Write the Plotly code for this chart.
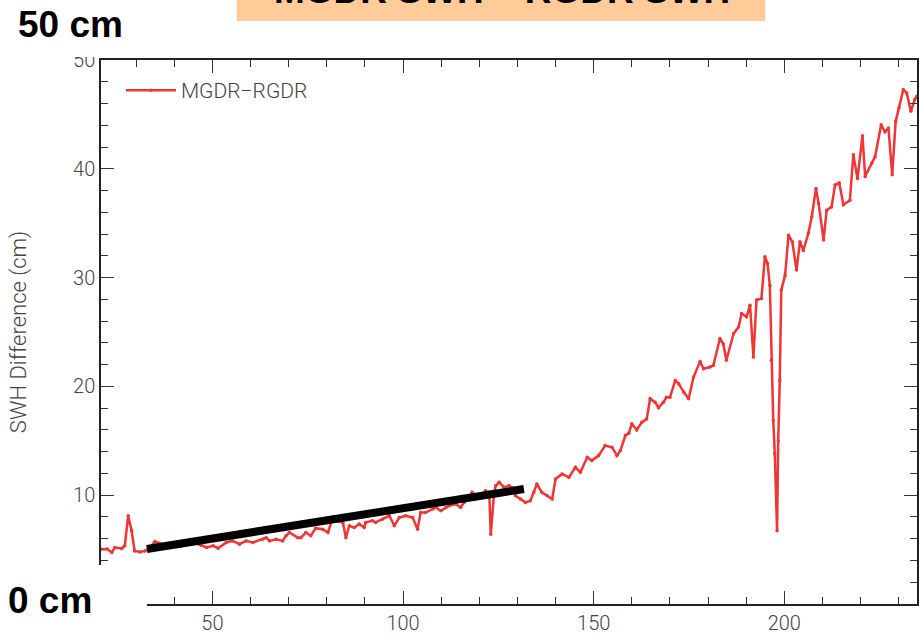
import plotly.graph_objects as go

# ---- data ----
cycle = [20.8, 22.4, 23.6, 24.4, 26.2, 27.0, 27.9, 28.8, 29.6, 31.0, 32.3, 33.6, 34.9, 36.0,
         37.5, 39.5, 41.5, 43.5, 45.5, 47.0,
         48.5, 50.2, 51.5, 53.6, 55.3, 57.1, 58.8, 60.6, 63.2, 64.1, 65.0, 66.7, 68.4, 69.3,
         70.2, 72.4, 73.2, 74.5, 75.8, 77.1, 78.9, 80.3, 81.6, 82.4, 84.2, 85.0, 85.9, 87.2,
         88.5, 89.8, 90.2, 92.0, 92.8, 94.6, 96.4, 97.7, 99.0, 100.7, 102.5, 103.8, 104.6,
         105.9, 107.8, 108.6, 109.9, 111.2, 112.1, 113.8, 115.1, 116.0, 117.3, 118.1, 119.0,
         120.3, 121.6, 122.6, 123.0, 123.9, 124.3, 125.2, 126.5, 127.8, 128.6, 129.5, 130.8,
         132.1, 133.4, 134.3, 135.1, 136.4, 137.8, 139.1, 140.0, 141.7, 143.5, 145.2, 146.5,
         148.3, 149.5, 151.3, 153.0, 154.8, 156.1, 157.0, 158.3, 159.2, 160.0, 161.3, 162.6,
         163.9, 164.8, 166.1, 167.0, 168.3, 169.1, 170.0, 171.4, 172.3, 173.6, 174.9, 176.2,
         177.9, 178.8, 180.5, 181.4, 183.1, 184.0, 184.8, 186.7, 188.0, 188.8, 190.1, 191.0,
         191.9, 192.7, 194.0, 194.9, 195.6, 196.2, 196.6, 197.1, 197.5, 198.1, 198.4, 198.8,
         199.2, 200.2, 201.1, 202.1, 203.2, 204.1, 205.0, 206.3, 207.2, 208.3, 209.0, 210.3,
         211.1, 212.4, 213.3, 214.4, 215.5, 217.2, 218.1, 219.2, 220.5, 221.2, 222.9, 223.8,
         225.4, 226.4, 227.3, 228.3, 229.2, 230.1, 231.2, 232.1, 233.2, 234.2, 234.8]
swh_diff = [5.04, 5.05, 4.73, 5.19, 5.10, 5.35, 8.11, 6.73, 4.88, 4.79, 4.88, 5.19, 5.74, 5.59,
            5.40, 5.50, 5.30, 5.50, 5.60, 5.40,
            5.20, 5.35, 5.13, 5.65, 5.80, 5.50, 5.80, 5.65, 5.96, 6.10, 5.80, 5.95, 5.80, 6.27,
            6.57, 6.10, 6.10, 6.57, 6.27, 6.97, 6.88, 6.57, 8.00, 7.65, 7.50, 6.10, 7.19, 7.03,
            7.35, 7.03, 7.50, 7.65, 7.50, 7.80, 8.11, 7.19, 7.95, 8.11, 7.95, 6.88, 8.41,
            8.41, 8.73, 8.88, 8.57, 8.88, 9.03, 9.19, 8.88, 9.34, 9.65, 10.26, 9.95,
            9.80, 10.41, 10.26, 6.42, 10.26, 10.88, 11.18, 10.72, 10.88, 10.70, 9.95, 9.65,
            9.34, 9.49, 10.26, 11.03, 10.26, 9.95, 9.65, 11.49, 11.95, 11.64, 12.56, 12.10,
            13.48, 13.18, 13.64, 14.56, 14.41, 13.64, 14.10, 15.48, 15.70, 16.56, 16.00, 16.70,
            17.00, 18.87, 18.55, 18.04, 18.55, 19.00, 19.00, 20.55, 20.25, 19.48, 18.87, 20.86,
            22.30, 21.63, 21.78, 21.94, 24.40, 23.90, 22.40, 24.86, 25.47, 26.70, 26.40, 27.47,
            22.70, 27.93, 28.08, 31.92, 31.30, 29.30, 22.40, 16.87, 13.80, 6.73, 15.00, 20.55,
            28.85, 30.20, 33.90, 33.30, 30.70, 33.30, 32.50, 34.07, 35.60, 38.20, 36.80, 33.45,
            36.20, 36.50, 38.50, 38.70, 36.70, 37.10, 41.30, 39.10, 43.04, 39.30, 40.50, 41.10,
            44.05, 43.40, 43.75, 39.45, 44.36, 45.60, 47.28, 46.97, 45.28, 46.36, 46.66]

trend_x = [32.8, 131.7]
trend_y = [5.06, 10.57]

series_name = "MGDR\u2212RGDR"
y_title = "SWH Difference (cm)"
x_ticks = [50, 100, 150, 200]
y_ticks = [10, 20, 30, 40, 50]

# ---- figure ----
RED = "#F03535"
fig = go.Figure()
fig.add_trace(go.Scatter(
    x=cycle, y=swh_diff, mode="lines+markers", name=series_name,
    line=dict(color=RED, width=2.5),
    marker=dict(symbol="circle", size=3.5, color=RED),
    showlegend=True,
))
fig.add_trace(go.Scatter(
    x=trend_x, y=trend_y, mode="lines", showlegend=False,
    line=dict(color="black", width=8),
))

axis_font = dict(family="Roboto", size=20, color="#444444", weight=300)
common = dict(
    showline=True, linecolor="#222222", linewidth=1.5, mirror="allticks",
    ticks="inside", ticklen=13, tickwidth=1.2, tickcolor="#333333",
    showgrid=False, zeroline=False, tickfont=axis_font,
)
fig.update_xaxes(range=[20.77, 234.8], tickvals=x_ticks,
                 minor=dict(dtick=10, tick0=0, ticks="inside", ticklen=7,
                            tickcolor="#333333", tickwidth=1.2, showgrid=False),
                 **common)
fig.update_yaxes(range=[0, 50], tickvals=y_ticks,
                 minor=dict(dtick=2, tick0=0, ticks="inside", ticklen=7,
                            tickcolor="#333333", tickwidth=1.2, showgrid=False),
                 title=dict(text=y_title, font=dict(family="Roboto", size=22,
                            color="#444444", weight=300), standoff=40),
                 **common)

def px_x(p):
    return (p - 101) / 818.0

def px_y(p):
    return (604 - p) / 544.0

shapes = [
    # title box
    dict(type="rect", xref="paper", yref="paper", x0=px_x(237), x1=px_x(767),
         y0=px_y(21), y1=px_y(-2), fillcolor="#FFCC99", line=dict(width=0), layer="above"),
    # white boxes behind corner labels
    dict(type="rect", xref="paper", yref="paper", x0=px_x(-2), x1=px_x(130),
         y0=px_y(57), y1=px_y(-2), fillcolor="white", line=dict(width=0), layer="above"),
    dict(type="rect", xref="paper", yref="paper", x0=px_x(-2), x1=px_x(147),
         y0=px_y(637), y1=px_y(565), fillcolor="white", line=dict(width=0), layer="above"),
]
annotations = [
    dict(text="<b>MGDR SWH \u2013 RGDR SWH</b>", xref="paper", yref="paper",
         x=px_x(503), y=px_y(-10), xanchor="center", yanchor="middle", showarrow=False,
         font=dict(family="Liberation Sans", size=37, color="black")),
    dict(text="<b>50 cm</b>", xref="paper", yref="paper",
         x=px_x(70), y=px_y(24), xanchor="center", yanchor="middle", showarrow=False,
         font=dict(family="Liberation Sans", size=37, color="black")),
    dict(text="<b>0 cm</b>", xref="paper", yref="paper",
         x=px_x(50), y=px_y(600), xanchor="center", yanchor="middle", showarrow=False,
         font=dict(family="Liberation Sans", size=37, color="black")),
]

fig.update_layout(
    width=919, height=635,
    margin=dict(l=101, r=0, t=60, b=31),
    paper_bgcolor="white", plot_bgcolor="white",
    shapes=shapes, annotations=annotations,
    legend=dict(x=px_x(121), y=px_y(70), xanchor="left", yanchor="top",
                bgcolor="rgba(0,0,0,0)", itemwidth=50,
                font=dict(family="Roboto", size=21, color="#444444", weight=300)),
)

fig.write_html("out.html", config={"displayModeBar": False},
               post_script="document.body.style.margin='0px';document.body.style.overflow='hidden';")
